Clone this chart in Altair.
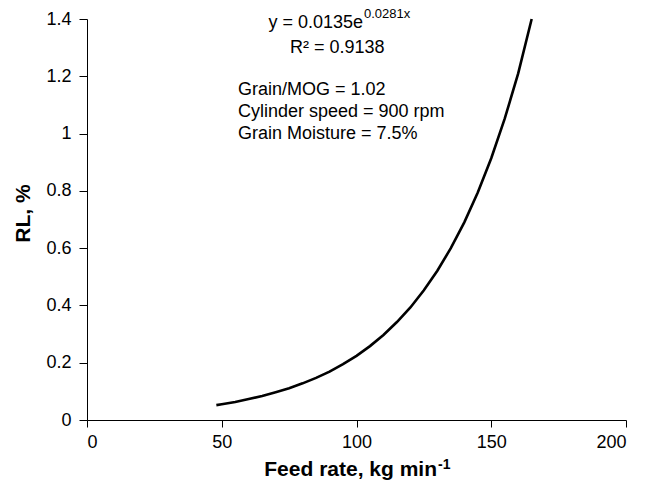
import altair as alt
import pandas as pd

# Feed rate (kg/min) and grain loss RL (%) along the fitted curve
feed_rate = [48, 50, 55, 60, 65, 70, 75, 80, 85, 90, 95, 100, 105, 110,
             115, 120, 125, 130, 135, 140, 145, 150, 155, 160, 165]
rl_percent = [0.052, 0.055, 0.063, 0.073, 0.084, 0.097, 0.111, 0.128, 0.147,
              0.169, 0.195, 0.224, 0.258, 0.297, 0.342, 0.393, 0.453, 0.521,
              0.600, 0.690, 0.794, 0.914, 1.052, 1.210, 1.400]

x_ticks = [0, 50, 100, 150, 200]
y_ticks = [0, 0.2, 0.4, 0.6, 0.8, 1.0, 1.2, 1.4]

df = pd.DataFrame({"feed": feed_rate, "rl": rl_percent})

FONT = "Liberation Sans"
W, H = 539, 401

curve = alt.Chart(df).mark_line(color="black", strokeWidth=2.6).encode(
    x=alt.X("feed:Q",
            scale=alt.Scale(domain=[0, 200], nice=False),
            axis=alt.Axis(values=x_ticks, format="d", title=None,
                          labelFontSize=18, labelPadding=6, tickSize=7)),
    y=alt.Y("rl:Q",
            scale=alt.Scale(domain=[0, 1.4], nice=False),
            axis=alt.Axis(values=y_ticks, format="~g", title="RL, %",
                          titleFontSize=21, titleFontWeight="bold",
                          titleAngle=270, titleAlign="center",
                          titleBaseline="alphabetic",
                          titleX=-58, titleY=194,
                          labelFontSize=18, labelPadding=8, tickSize=8)),
)


def note(text, x, y, size=18, align="left", weight="normal"):
    return alt.Chart(alt.Data(values=[{}])).mark_text(
        text=text, align=align, baseline="alphabetic", fontSize=size,
        font=FONT, fontWeight=weight, color="black"
    ).encode(x=alt.value(x), y=alt.value(y))


annotations = [
    note("y = 0.0135e", 276, 9, align="right"),
    note("0.0281x", 277, -1.5, size=13),
    note("R\u00b2 = 0.9138", 203, 34),
    note("Grain/MOG = 1.02", 151, 76),
    note("Cylinder speed = 900 rpm", 151, 98),
    note("Grain Moisture = 7.5%", 151, 120),
    # x-axis title with superscript unit exponent
    note("Feed rate, kg min", 350, 457, size=21, align="right", weight="bold"),
    note("-1", 351, 450, size=14, weight="bold"),
]

chart = alt.layer(curve, *annotations).properties(
    width=W, height=H,
    autosize=alt.AutoSizeParams(type="none"),
    padding={"left": 87, "top": 19, "right": 656 - 87 - W, "bottom": 480 - 19 - H},
    background="white",
).configure_view(stroke=None).configure_axis(
    grid=False, domainColor="black", tickColor="black", labelColor="black",
    titleColor="black", labelFont=FONT, titleFont=FONT, domainWidth=1,
    tickWidth=1,
)

chart.save("out.html", embed_options={"renderer": "svg", "actions": False})
